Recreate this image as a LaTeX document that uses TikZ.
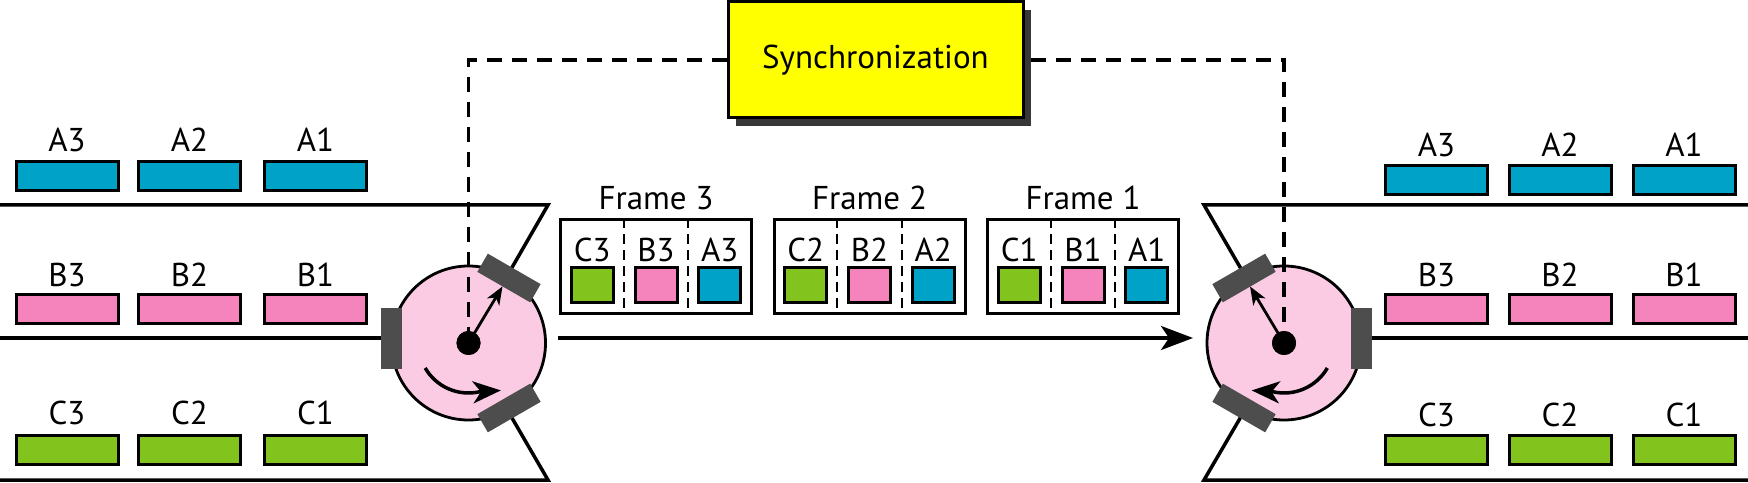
\documentclass[tikz,border=0pt]{standalone}
\usepackage{fontspec}
\setmainfont{PT Sans}
\usetikzlibrary{arrows.meta,calc}

\definecolor{cblue}{RGB}{0,163,199}
\definecolor{cpink}{RGB}{246,132,188}
\definecolor{cgreen}{RGB}{130,195,30}
\definecolor{cdisk}{RGB}{251,203,228}
\definecolor{cplate}{RGB}{77,77,77}
\definecolor{cshadow}{RGB}{55,55,55}
\definecolor{cyellow}{RGB}{255,255,0}

\begin{document}
\begin{tikzpicture}[x=1pt,y=1pt,
  chan/.style={line width=3.5pt},
  slotbox/.style={draw, line width=3pt, minimum width=102pt, minimum height=29pt, inner sep=0pt},
  sqbox/.style={draw, line width=3pt, minimum width=42pt, minimum height=35pt, inner sep=0pt},
  lbl/.style={font=\fontsize{33}{38}\selectfont, inner sep=0pt},
  frmbox/.style={draw, line width=3pt, minimum width=191pt, minimum height=94pt, inner sep=0pt},
  platebox/.style={fill=cplate, minimum width=61pt, minimum height=21pt, inner sep=0pt},
  disk/.style={circle, draw, line width=2.8pt, fill=cdisk, minimum size=154pt, inner sep=0pt},
  hubdot/.style={circle, fill=black, minimum size=24pt, inner sep=0pt},
  syncline/.style={line width=3.5pt, dash pattern=on 15pt off 10pt},
  divline/.style={line width=2.2pt, dash pattern=on 10pt off 6pt},
  mainarr/.style={line width=3.5pt, -{Stealth[length=32pt,width=24pt,inset=8pt]}},
  ptr/.style={line width=2.8pt, -{Stealth[length=18pt,width=14pt,inset=5pt]}},
  curv/.style={line width=3.5pt, -{Stealth[length=28pt,width=22pt,inset=8pt]}}
]
\useasboundingbox (0,0) rectangle (1748,482);

% centres of the two disks
\coordinate (cL) at (468.5,139);
\coordinate (cR) at (1284,139);

% channel lines, left
\coordinate (l0t) at (0,277);
\coordinate (l1t) at (548,277);
\coordinate (l0b) at (0,2);
\coordinate (l1b) at (548,2);
\coordinate (l0m) at (0,144);
\coordinate (l1m) at (468.5,144);
\draw[chan] (l0t) -- (l1t) -- (cL);
\draw[chan] (l0b) -- (l1b) -- (cL);
\draw[chan] (l0m) -- (l1m);
% channel lines, right
\coordinate (r0t) at (1748,277);
\coordinate (r1t) at (1204,277);
\coordinate (r0b) at (1748,2);
\coordinate (r1b) at (1204,2);
\coordinate (r0m) at (1748,144);
\coordinate (r1m) at (1284,144);
\draw[chan] (r0t) -- (r1t) -- (cR);
\draw[chan] (r0b) -- (r1b) -- (cR);
\draw[chan] (r0m) -- (r1m);

% disks and contact plates
\node[disk] (diskL) at (cL) {};
\node[disk] (diskR) at (cR) {};
\node[platebox, rotate=90] (pLm) at (391.5,143.5) {};
\node[platebox, rotate=-30] (pLu) at (509,204) {};
\node[platebox, rotate=30] (pLd) at (509,74) {};
\node[platebox, rotate=90] (pRm) at (1361.5,143.5) {};
\node[platebox, rotate=30] (pRu) at (1244,204) {};
\node[platebox, rotate=-30] (pRd) at (1244,74) {};

% synchronization box
\node[fill=cshadow, minimum width=295pt, minimum height=116pt, inner sep=0pt] (syncsh) at (883.5,414) {};
\node[draw, line width=3pt, fill=cyellow, minimum width=295pt, minimum height=116pt, inner sep=0pt,
      font=\fontsize{33}{38}\selectfont] (sync) at (875.5,422) {Synchronization};

% hubs
\node[hubdot] (dotL) at (cL) {};
\node[hubdot] (dotR) at (cR) {};
\draw[syncline] (sync.west) -| (dotL.center);
\draw[syncline] (syncsh.east |- sync.east) -| (dotR.center);
\node[hubdot] at (cL) {};
\node[hubdot] at (cR) {};

% pointers and rotation arrows
\draw[ptr] (dotL.center) -- ([shift={(59:66)}]cL);
\draw[ptr] (dotR.center) -- ([shift={(121:66)}]cR);
\draw[curv] ([shift={(210:50)}]cL) arc[start angle=210, end angle=282, radius=50] -- ++(22,1.5);
\draw[curv] ([shift={(-30:50)}]cR) arc[start angle=-30, end angle=-102, radius=50] -- ++(-22,1.5);

% main link arrow
\coordinate (aS) at (558,144);
\coordinate (aE) at (1193,144);
\draw[mainarr] (aS) -- (aE);

% input slots (left)
\foreach \n/\x in {3/67,2/189.5,1/315.5}{
  \node[slotbox, fill=cblue] (lA\n) at (\x,305.5) {};
  \node[lbl] (tlA\n) at (\x,342) {A\n};
  \node[slotbox, fill=cpink] (lB\n) at (\x,172.5) {};
  \node[lbl] (tlB\n) at (\x,207) {B\n};
  \node[slotbox, fill=cgreen] (lC\n) at (\x,32) {};
  \node[lbl] (tlC\n) at (\x,69) {C\n};
}
% output slots (right)
\foreach \n/\x in {3/1436.5,2/1560,1/1684}{
  \node[slotbox, fill=cblue] (rA\n) at (\x,302) {};
  \node[lbl] (trA\n) at (\x,337) {A\n};
  \node[slotbox, fill=cpink] (rB\n) at (\x,172.5) {};
  \node[lbl] (trB\n) at (\x,207) {B\n};
  \node[slotbox, fill=cgreen] (rC\n) at (\x,32) {};
  \node[lbl] (trC\n) at (\x,67) {C\n};
}

% frames
\foreach \n/\x in {3/656,2/869.5,1/1083}{
  \node[frmbox] (f\n) at (\x,215) {};
  \node[lbl] (tf\n) at (\x,284) {Frame \n};
  \draw[divline] ($(f\n.north west)!1/3!(f\n.north east)$) -- ($(f\n.south west)!1/3!(f\n.south east)$);
  \draw[divline] ($(f\n.north west)!2/3!(f\n.north east)$) -- ($(f\n.south west)!2/3!(f\n.south east)$);
  \node[sqbox, fill=cgreen] (sC\n) at (\x-63.7,196.5) {};
  \node[lbl] (tsC\n) at (\x-63.7,232) {C\n};
  \node[sqbox, fill=cpink] (sB\n) at (\x,196.5) {};
  \node[lbl] (tsB\n) at (\x,232) {B\n};
  \node[sqbox, fill=cblue] (sA\n) at (\x+63.7,196.5) {};
  \node[lbl] (tsA\n) at (\x+63.7,232) {A\n};
}
\end{tikzpicture}
\end{document}
